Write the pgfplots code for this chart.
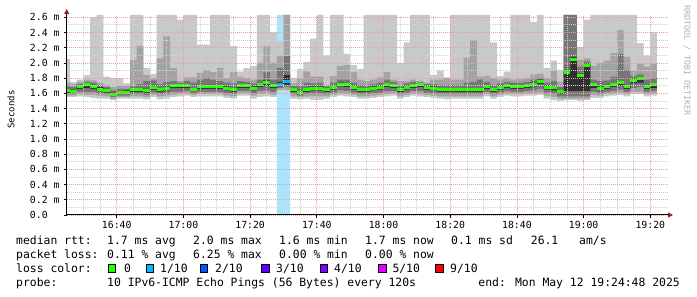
\documentclass[border=0pt]{standalone}
\usepackage{fontspec}
\setmainfont{DejaVu Sans Mono}
\setmonofont{DejaVu Sans Mono}
\usepackage{pgfplots}
\pgfplotsset{compat=1.18}
\usepackage{pgfplotstable}
\usetikzlibrary{arrows.meta}

\definecolor{smA}{HTML}{C8C8C8}
\definecolor{smB}{HTML}{A3A3A3}
\definecolor{smC}{HTML}{767676}
\definecolor{smD}{HTML}{303030}
\definecolor{medc}{HTML}{26FF00}
\definecolor{lA}{HTML}{00B8FF}
\definecolor{lB}{HTML}{0059FF}
\definecolor{lC}{HTML}{5E00FF}
\definecolor{lD}{HTML}{7E00FF}
\definecolor{lE}{HTML}{DD00FF}
\definecolor{lF}{HTML}{FF0000}
\definecolor{lossbg}{HTML}{A8E6FF}
\definecolor{mgrid}{HTML}{E8A0A0}
\definecolor{ngrid}{HTML}{D0D0D0}
\definecolor{arrowred}{HTML}{9A1E1E}
\definecolor{wm}{HTML}{B0B0B0}

\pgfplotstableread{
T q1 q2 q3 q4 med u4 u3 u2 u1
24 1.55 1.57 1.59 1.61 1.635 1.66 1.70 1.74 2.05
26 1.55 1.57 1.59 1.61 1.63 1.65 1.68 1.72 1.75
28 1.56 1.59 1.62 1.66 1.69 1.71 1.72 1.75 1.78
30 1.55 1.58 1.62 1.67 1.71 1.73 1.75 1.78 1.84
32 1.54 1.58 1.62 1.66 1.69 1.71 1.74 1.77 2.60
34 1.53 1.57 1.60 1.63 1.655 1.68 1.71 1.74 2.63
36 1.53 1.56 1.59 1.61 1.635 1.66 1.68 1.71 1.82
38 1.51 1.53 1.55 1.57 1.585 1.61 1.64 1.68 1.80
40 1.53 1.55 1.57 1.59 1.61 1.63 1.66 1.70 1.80
42 1.53 1.55 1.57 1.59 1.615 1.64 1.66 1.70 1.73
44 1.53 1.56 1.59 1.62 1.645 1.67 1.70 2.04 2.63
46 1.53 1.56 1.59 1.62 1.645 1.67 1.72 2.22 2.63
48 1.52 1.55 1.58 1.61 1.635 1.66 1.76 1.84 1.93
50 1.55 1.58 1.61 1.65 1.68 1.70 1.77 1.80 1.855
52 1.52 1.56 1.59 1.62 1.65 1.67 1.72 2.06 2.63
54 1.53 1.57 1.60 1.64 1.67 1.69 1.75 2.35 2.63
56 1.55 1.58 1.62 1.67 1.70 1.72 1.76 1.93 2.63
58 1.56 1.59 1.62 1.67 1.70 1.72 1.74 1.76 2.57
60 1.57 1.60 1.63 1.67 1.70 1.72 1.76 1.81 2.63
62 1.55 1.58 1.60 1.63 1.65 1.67 1.74 1.81 2.63
64 1.56 1.59 1.62 1.66 1.69 1.71 1.78 1.87 2.24
66 1.56 1.59 1.62 1.66 1.69 1.71 1.80 1.91 2.24
68 1.56 1.59 1.62 1.66 1.69 1.71 1.78 1.88 2.63
70 1.56 1.59 1.62 1.66 1.69 1.71 1.76 1.93 2.63
72 1.54 1.57 1.60 1.64 1.665 1.69 1.74 1.80 2.63
74 1.53 1.56 1.59 1.62 1.645 1.67 1.73 1.88 2.22
76 1.57 1.60 1.63 1.67 1.70 1.72 1.76 1.82 1.885
78 1.57 1.60 1.63 1.67 1.70 1.72 1.75 1.80 1.93
80 1.53 1.57 1.60 1.64 1.67 1.69 1.73 1.78 1.96
82 1.55 1.59 1.63 1.68 1.71 1.73 1.78 2.00 2.63
84 1.56 1.60 1.64 1.70 1.74 1.77 1.88 2.22 2.63
86 1.55 1.58 1.62 1.67 1.70 1.72 1.78 2.00 2.40
88 1.63 1.65 1.67 1.69 1.72 1.75 1.93 2.10 2.28
90 1.62 1.65 1.68 1.71 1.75 1.84 2.09 2.63 2.63
92 1.53 1.56 1.59 1.62 1.645 1.67 1.70 1.73 1.80
94 1.52 1.55 1.57 1.59 1.61 1.63 1.70 1.80 1.92
96 1.53 1.56 1.59 1.62 1.645 1.67 1.74 1.89 2.01
98 1.51 1.56 1.60 1.64 1.665 1.69 1.73 1.82 2.32
100 1.51 1.56 1.60 1.64 1.665 1.69 1.74 1.82 2.63
102 1.53 1.56 1.59 1.62 1.645 1.67 1.69 1.71 2.10
104 1.55 1.58 1.61 1.65 1.68 1.70 1.74 1.83 2.63
106 1.57 1.60 1.64 1.69 1.72 1.74 1.78 1.96 2.63
108 1.56 1.59 1.63 1.68 1.71 1.73 1.78 1.97 2.12
110 1.55 1.58 1.61 1.65 1.68 1.70 1.74 1.88 1.97
112 1.53 1.56 1.59 1.62 1.645 1.67 1.71 1.78 1.92
114 1.53 1.56 1.59 1.62 1.65 1.67 1.71 1.76 2.63
116 1.54 1.57 1.60 1.64 1.665 1.69 1.72 1.78 2.63
118 1.55 1.58 1.61 1.65 1.68 1.70 1.74 1.81 2.63
120 1.56 1.59 1.63 1.68 1.71 1.73 1.78 1.88 2.63
122 1.57 1.60 1.63 1.67 1.70 1.72 1.75 1.78 2.63
124 1.53 1.56 1.59 1.62 1.645 1.67 1.70 1.76 2.00
126 1.55 1.58 1.61 1.65 1.68 1.70 1.73 1.76 2.27
128 1.57 1.60 1.63 1.67 1.70 1.72 1.75 1.78 2.63
130 1.56 1.59 1.63 1.68 1.71 1.73 1.74 1.76 2.63
132 1.55 1.58 1.61 1.65 1.68 1.70 1.72 1.74 2.63
134 1.54 1.57 1.60 1.64 1.67 1.69 1.72 1.78 1.84
136 1.53 1.56 1.59 1.62 1.65 1.67 1.71 1.78 1.90
138 1.52 1.56 1.59 1.62 1.645 1.67 1.71 1.80 1.81
140 1.53 1.56 1.59 1.62 1.645 1.67 1.71 1.78 2.63
142 1.53 1.56 1.59 1.62 1.645 1.67 1.71 1.78 2.63
144 1.53 1.56 1.59 1.62 1.65 1.67 1.74 2.07 2.63
146 1.53 1.56 1.59 1.62 1.65 1.67 1.75 2.30 2.63
148 1.53 1.56 1.59 1.62 1.65 1.67 1.78 1.82 2.63
150 1.56 1.59 1.62 1.66 1.69 1.71 1.75 1.83 2.63
152 1.53 1.56 1.59 1.62 1.645 1.67 1.71 1.80 2.27
154 1.55 1.58 1.61 1.65 1.68 1.70 1.73 1.78 1.83
156 1.57 1.60 1.63 1.67 1.70 1.72 1.75 1.80 1.885
158 1.56 1.59 1.62 1.66 1.69 1.71 1.74 1.78 2.63
160 1.56 1.59 1.62 1.66 1.69 1.71 1.74 1.79 2.63
162 1.57 1.60 1.63 1.67 1.70 1.72 1.75 1.80 2.63
164 1.57 1.60 1.64 1.69 1.72 1.74 1.78 1.85 2.54
166 1.58 1.61 1.66 1.72 1.76 1.78 1.80 1.86 2.63
168 1.53 1.57 1.61 1.65 1.68 1.70 1.74 1.80 1.93
170 1.51 1.55 1.60 1.64 1.68 1.70 1.76 1.90 2.03
172 1.50 1.53 1.56 1.59 1.62 1.64 1.68 1.75 1.91
174 1.51 1.53 1.56 1.63 1.87 1.89 2.63 2.63 2.63
176 1.51 1.53 1.56 1.63 2.05 2.08 2.63 2.63 2.63
178 1.50 1.53 1.56 1.63 1.83 1.86 1.95 2.04 2.21
180 1.51 1.53 1.56 1.63 1.96 1.99 2.02 2.06 2.57
182 1.54 1.58 1.62 1.67 1.71 1.73 1.78 1.96 2.63
184 1.54 1.57 1.60 1.64 1.67 1.69 1.76 2.00 2.63
186 1.56 1.59 1.62 1.66 1.69 1.71 1.77 2.03 2.63
188 1.57 1.60 1.63 1.68 1.71 1.73 1.82 2.13 2.63
190 1.58 1.61 1.65 1.70 1.74 1.76 2.12 2.43 2.63
192 1.56 1.59 1.62 1.66 1.69 1.71 1.91 2.08 2.63
194 1.59 1.62 1.67 1.73 1.77 1.79 1.83 1.90 2.63
196 1.59 1.62 1.68 1.74 1.79 1.81 1.85 1.99 2.26
198 1.56 1.59 1.62 1.66 1.69 1.71 1.78 1.95 2.10
200 1.57 1.60 1.63 1.67 1.71 1.73 1.80 1.99 2.40
202 1.57 1.60 1.63 1.67 1.71 1.73 1.80 1.99 2.40
}\smoke

\newcommand{\legfont}{\fontsize{11.4}{13}\selectfont}

\begin{document}
\begin{tikzpicture}
\path[use as bounding box] (0pt,0pt) rectangle (697pt,297pt);
\fill[white] (0pt,0pt) rectangle (697pt,297pt);
\begin{axis}[
  at={(66.7pt,82pt)}, anchor=south west, scale only axis,
  width=600.3pt, height=200pt,
  xmin=25, xmax=205, ymin=0, ymax=2.63,
  axis on top, axis lines=left,
  axis line style={line width=1pt, black, shorten >=-6pt, -{Triangle[length=5pt,width=5pt,color=arrowred]}},
  xtick={40,60,80,100,120,140,160,180,200},
  xticklabels={16:40,17:00,17:20,17:40,18:00,18:20,18:40,19:00,19:20},
  minor xtick={30,35,45,50,55,65,70,75,85,90,95,105,110,115,125,130,135,145,150,155,165,170,175,185,190,195},
  ytick={0,0.2,0.4,0.6,0.8,1.0,1.2,1.4,1.6,1.8,2.0,2.2,2.4,2.6},
  yticklabels={0.0\hphantom{ m},0.2 m,0.4 m,0.6 m,0.8 m,1.0 m,1.2 m,1.4 m,1.6 m,1.8 m,2.0 m,2.2 m,2.4 m,2.6 m},
  minor ytick={0.1,0.3,0.5,0.7,0.9,1.1,1.3,1.5,1.7,1.9,2.1,2.3,2.5},
  grid=both,
  major grid style={draw=mgrid, line width=0.8pt, dash pattern=on 1pt off 1pt},
  minor grid style={draw=ngrid, line width=0.8pt, dash pattern=on 1pt off 1pt},
  tick align=outside, major tick length=3pt, minor tick length=0pt,
  tick style={black, line width=0.8pt},
  ticklabel style={font=\fontsize{9.8}{10}\selectfont, inner sep=0pt},
  yticklabel style={anchor=east, xshift=-4pt},
  xticklabel style={anchor=north, yshift=-3.5pt},
  /pgf/number format/assume math mode=true,
]
\addplot[const plot mark left, draw=none, fill=lossbg] coordinates {(88,2.63) (90,2.63) (92,2.63)} \closedcycle;
\addplot[const plot mark left, draw=none, fill=smA] table[x=T,y=u1]{\smoke} \closedcycle;
\addplot[const plot mark left, draw=none, fill=smB] table[x=T,y=u2]{\smoke} \closedcycle;
\addplot[const plot mark left, draw=none, fill=smC] table[x=T,y=u3]{\smoke} \closedcycle;
\addplot[const plot mark left, draw=none, fill=smD] table[x=T,y=u4]{\smoke} \closedcycle;
\addplot[const plot mark left, draw=none, fill=smC] table[x=T,y=q4]{\smoke} \closedcycle;
\addplot[const plot mark left, draw=none, fill=smB] table[x=T,y=q3]{\smoke} \closedcycle;
\addplot[const plot mark left, draw=none, fill=smA] table[x=T,y=q2]{\smoke} \closedcycle;
\addplot[const plot mark left, draw=none, fill=white] table[x=T,y=q1]{\smoke} \closedcycle;
\addplot[const plot mark left, draw=none, fill=lossbg] coordinates {(88,1.63) (90,1.62) (92,1.62)} \closedcycle;
\addplot[jump mark left, draw=medc, line width=3pt, mark=none] table[x=T,y=med]{\smoke};
\addplot[jump mark left, draw=lA, line width=3pt, mark=none] coordinates {(88,1.72) (90,1.75) (92,1.75)};
\end{axis}

\node[rotate=90, inner sep=0pt, font=\fontsize{9}{10}\selectfont] at (11pt,187.5pt) {Seconds};
\node[rotate=-90, anchor=west, inner sep=0pt, text=wm, font=\fontsize{8.3}{9}\selectfont] at (687pt,292pt) {RRDTOOL / TOBI OETIKER};

\begin{scope}[every node/.style={anchor=base west, inner sep=0pt, font=\legfont}]
\node at (16pt,52pt) {median rtt:};
\node at (107pt,52pt) {1.7 ms avg};
\node at (193pt,52pt) {2.0 ms max};
\node at (279pt,52pt) {1.6 ms min};
\node at (365pt,52pt) {1.7 ms now};
\node at (451pt,52pt) {0.1 ms sd};
\node at (530.7pt,52pt) {26.1};
\node at (579pt,52pt) {am/s};
\node at (16pt,38pt) {packet loss:};
\node at (107pt,38pt) {0.11 \% avg};
\node at (193pt,38pt) {6.25 \% max};
\node at (279pt,38pt) {0.00 \% min};
\node at (365pt,38pt) {0.00 \% now};
\node at (16pt,24.5pt) {loss color:};
\node at (124pt,24.5pt) {0};
\node at (160pt,24.5pt) {1/10};
\node at (215pt,24.5pt) {2/10};
\node at (276pt,24.5pt) {3/10};
\node at (334pt,24.5pt) {4/10};
\node at (392.3pt,24.5pt) {5/10};
\node at (450pt,24.5pt) {9/10};
\node at (16pt,10.5pt) {probe:};
\node at (107pt,10.5pt) {10 IPv6-ICMP Echo Pings (56 Bytes) every 120s};
\node[anchor=base east] at (680pt,10.5pt) {end: Mon May 12 19:24:48 2025};
\end{scope}
\foreach \bx/\bc in {108/medc,146/lA,200/lB,261.7/lC,320/lD,378.3/lE,435.7/lF}{
  \filldraw[fill=\bc, draw=black, line width=0.8pt] (\bx pt,24.7pt) rectangle ++(7.7pt,8pt);
}
\end{tikzpicture}
\end{document}
